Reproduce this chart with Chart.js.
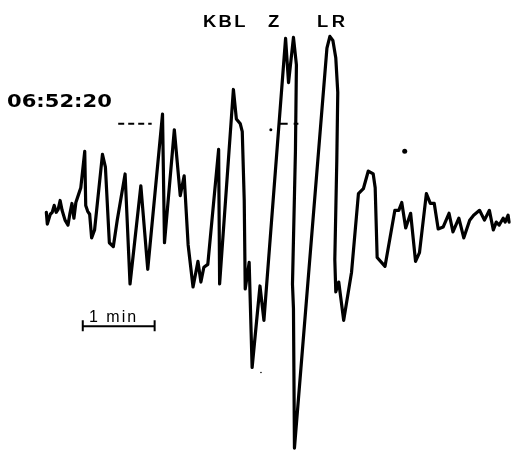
<!DOCTYPE html>
<html>
<head>
<meta charset="utf-8">
<script src="https://cdn.jsdelivr.net/npm/chart.js@4/dist/chart.umd.min.js"></script>
<style>
  html, body { margin: 0; padding: 0; background: #fff; }
  #wrap { position: relative; width: 518px; height: 457px; }
  .lbl { position: absolute; color: #000; line-height: 1; white-space: nowrap; transform-origin: 0 0; }
</style>
</head>
<body>
<div id="wrap">
  <canvas id="seismo"></canvas>
  <div class="lbl" style="left:203px;top:13px;font:bold 16px 'Liberation Sans';letter-spacing:2px;transform:scaleX(1.15)">KBL</div>
  <div class="lbl" style="left:268px;top:13px;font:bold 16px 'Liberation Sans';transform:scaleX(1.15)">Z</div>
  <div class="lbl" style="left:317px;top:13px;font:bold 16px 'Liberation Sans';letter-spacing:3px;transform:scaleX(1.15)">LR</div>
  <div class="lbl" style="left:7px;top:91px;font:bold 17px 'DejaVu Sans';transform:scaleX(1.24)">06:52:20</div>
  <div class="lbl" style="left:89px;top:308px;font:16px 'Liberation Sans';letter-spacing:2px">1 min</div>
</div>
<script>
// trace: time (record units), amplitude (up = positive)
const time = [43, 44, 47, 49, 51, 53, 55, 57, 59, 62, 65, 67, 69, 71, 73, 76, 78, 82, 83, 85,
  87, 89, 92, 100, 103, 107, 111, 115, 123, 128, 139, 146, 161, 163, 173, 179, 183, 187, 192, 197,
  200, 203, 207, 218, 219, 233, 236, 240, 242, 244, 245, 249, 252, 260, 264, 286, 289, 294, 297, 296,
  293, 294, 295, 328, 331, 334, 337, 339, 338, 336, 337, 340, 345, 353, 360, 365, 370, 375, 377, 379,
  387, 397, 401, 404, 408, 413, 418, 422, 429, 433, 437, 441, 446, 452, 456, 462, 467, 473, 477, 483,
  488, 493, 497, 500, 503, 507, 509, 512, 513];
const amplitude = [3, -9, 1, 3, 10, 3, 6, 15, 5, -5, -10, 2, 12, -3, 13, 22, 28, 65, 10, 4,
  1, -23, -15, 62, 49, -28, -32, -5, 42, -70, 30, -55, 103, -28, 87, 20, 40, -30, -73, -47,
  -68, -53, -50, 67, -70, 128, 98, 93, 85, 15, -75, -48, -155, -72, -107, 180, 135, 181, 153, 65,
  -70, -95, -237, 170, 182, 178, 160, 125, 55, -45, -78, -68, -107, -58, 22, 27, 45, 42, 28, -43,
  -52, 5, 5, 13, -13, 2, -47, -38, 22, 12, 12, -14, -12, 2, -17, -3, -23, -5, 0, 5,
  -5, 5, -15, -7, -10, -3, -7, 0, -7];

// one-minute scale bar
const barTime = [80, 80, 80, 153, 153, 153];
const barAmp = [-107, -118, -113, -113, -107, -118];

// timing marks
const markATime = [116, 150];
const markAAmp = [93, 93];
const markBTime = [280, 299];
const markBAmp = [93, 93];
const dotTime = [271, 407, 261];
const dotAmp = [87, 65, -160];

const pts = (xs, ys) => xs.map((x, i) => ({ x: x, y: ys[i] }));

new Chart(document.getElementById("seismo").getContext("2d"), {
    type: "scatter",
    data: {
        datasets: [
            {
                data: pts(time, amplitude),
                showLine: true,
                borderColor: "#000",
                borderWidth: 3.2,
                pointRadius: 0,
                tension: 0,
                borderJoinStyle: "round",
                borderCapStyle: "round"
            },
            {
                data: pts(barTime, barAmp),
                showLine: true,
                borderColor: "#000",
                borderWidth: 2,
                pointRadius: 0
            },
            {
                data: pts(markATime, markAAmp),
                showLine: true,
                borderColor: "#000",
                borderWidth: 2,
                borderDash: [6, 4],
                pointRadius: 0
            },
            {
                data: pts(markBTime, markBAmp),
                showLine: true,
                borderColor: "#000",
                borderWidth: 2,
                borderDash: [8, 6],
                pointRadius: 0
            },
            {
                data: pts(dotTime, dotAmp),
                showLine: false,
                backgroundColor: "#000",
                borderWidth: 0,
                pointRadius: [1.5, 2.5, 0.8]
            }
        ]
    },
    options: {
        responsive: true,
        maintainAspectRatio: false,
        animation: false,
        layout: { padding: 0 },
        plugins: { legend: { display: false }, tooltip: { enabled: false } },
        scales: {
            x: { type: "linear", min: 0, max: 518, display: false },
            y: { type: "linear", min: -242, max: 215, display: false }
        }
    }
});
</script>
</body>
</html>
